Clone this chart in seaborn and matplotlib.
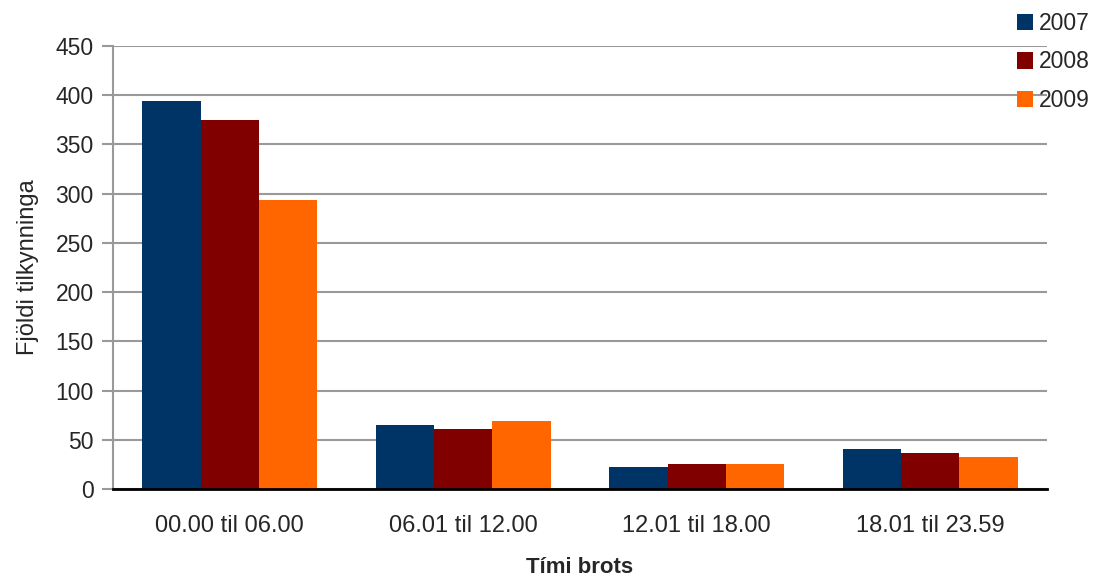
import pandas as pd
import seaborn as sns
import matplotlib.pyplot as plt

# data
categories = ['00.00 til 06.00', '06.01 til 12.00', '12.01 til 18.00', '18.01 til 23.59']
years = ['2007', '2008', '2009']
values_2007 = [394, 65, 22, 41]
values_2008 = [375, 61, 25, 37]
values_2009 = [294, 69, 25, 33]
colors = ['#003366', '#800000', '#FF6600']


def build_frame() -> pd.DataFrame:
    rows = []
    for year, vals in zip(years, [values_2007, values_2008, values_2009]):
        for cat, v in zip(categories, vals):
            rows.append({'Tími': cat, 'Ár': year, 'Fjöldi': v})
    return pd.DataFrame(rows)


def main() -> None:
    df = build_frame()
    sns.set_style('white')
    plt.rcParams['font.family'] = ['Liberation Sans', 'DejaVu Sans']

    fig = plt.figure(figsize=(11.04, 5.81), dpi=100)
    ax = fig.add_axes([113 / 1104, 92 / 581, 934 / 1104, 443 / 581])

    sns.barplot(data=df, x='Tími', y='Fjöldi', hue='Ár', palette=colors,
                width=0.75, saturation=1, linewidth=0, ax=ax)

    ax.set_xlim(-0.5, 3.5)
    ax.set_ylim(0, 450)
    ax.set_yticks(range(0, 451, 50))
    ax.yaxis.grid(True, color='#999999', linewidth=1.5)
    ax.set_axisbelow(True)

    # category ticks sit between the groups, labels in the middle
    ax.set_xticks([-0.5, 0.5, 1.5, 2.5, 3.5])
    ax.set_xticklabels([])
    ax.set_xticks(range(len(categories)), minor=True)
    ax.set_xticklabels(categories, minor=True, fontsize=17)
    ax.tick_params(axis='x', which='minor', length=0, pad=19)
    ax.tick_params(axis='x', which='major', length=8, width=1.5, color='black', direction='out')
    ax.tick_params(axis='y', length=8, width=1.5, color='#999999', labelsize=16.5, pad=6, left=True)

    for side in ['top', 'right']:
        ax.spines[side].set_visible(False)
    ax.spines['left'].set_color('#999999')
    ax.spines['left'].set_linewidth(1.5)
    ax.spines['bottom'].set_color('black')
    ax.spines['bottom'].set_linewidth(2)

    ax.set_xlabel('Tími brots', fontsize=16, fontweight='bold', labelpad=14)
    ax.set_ylabel('Fjöldi tilkynninga', fontsize=17, labelpad=12)

    ax.legend(title=None, loc='upper left', bbox_to_anchor=(1005 / 1104, 1.0),
              bbox_transform=fig.transFigure, frameon=False, fontsize=16.5,
              handlelength=0.7, handleheight=0.7, handletextpad=0.25,
              labelspacing=0.68, borderaxespad=0.12)

    fig.savefig('out.png', dpi=100)


if __name__ == '__main__':
    main()
